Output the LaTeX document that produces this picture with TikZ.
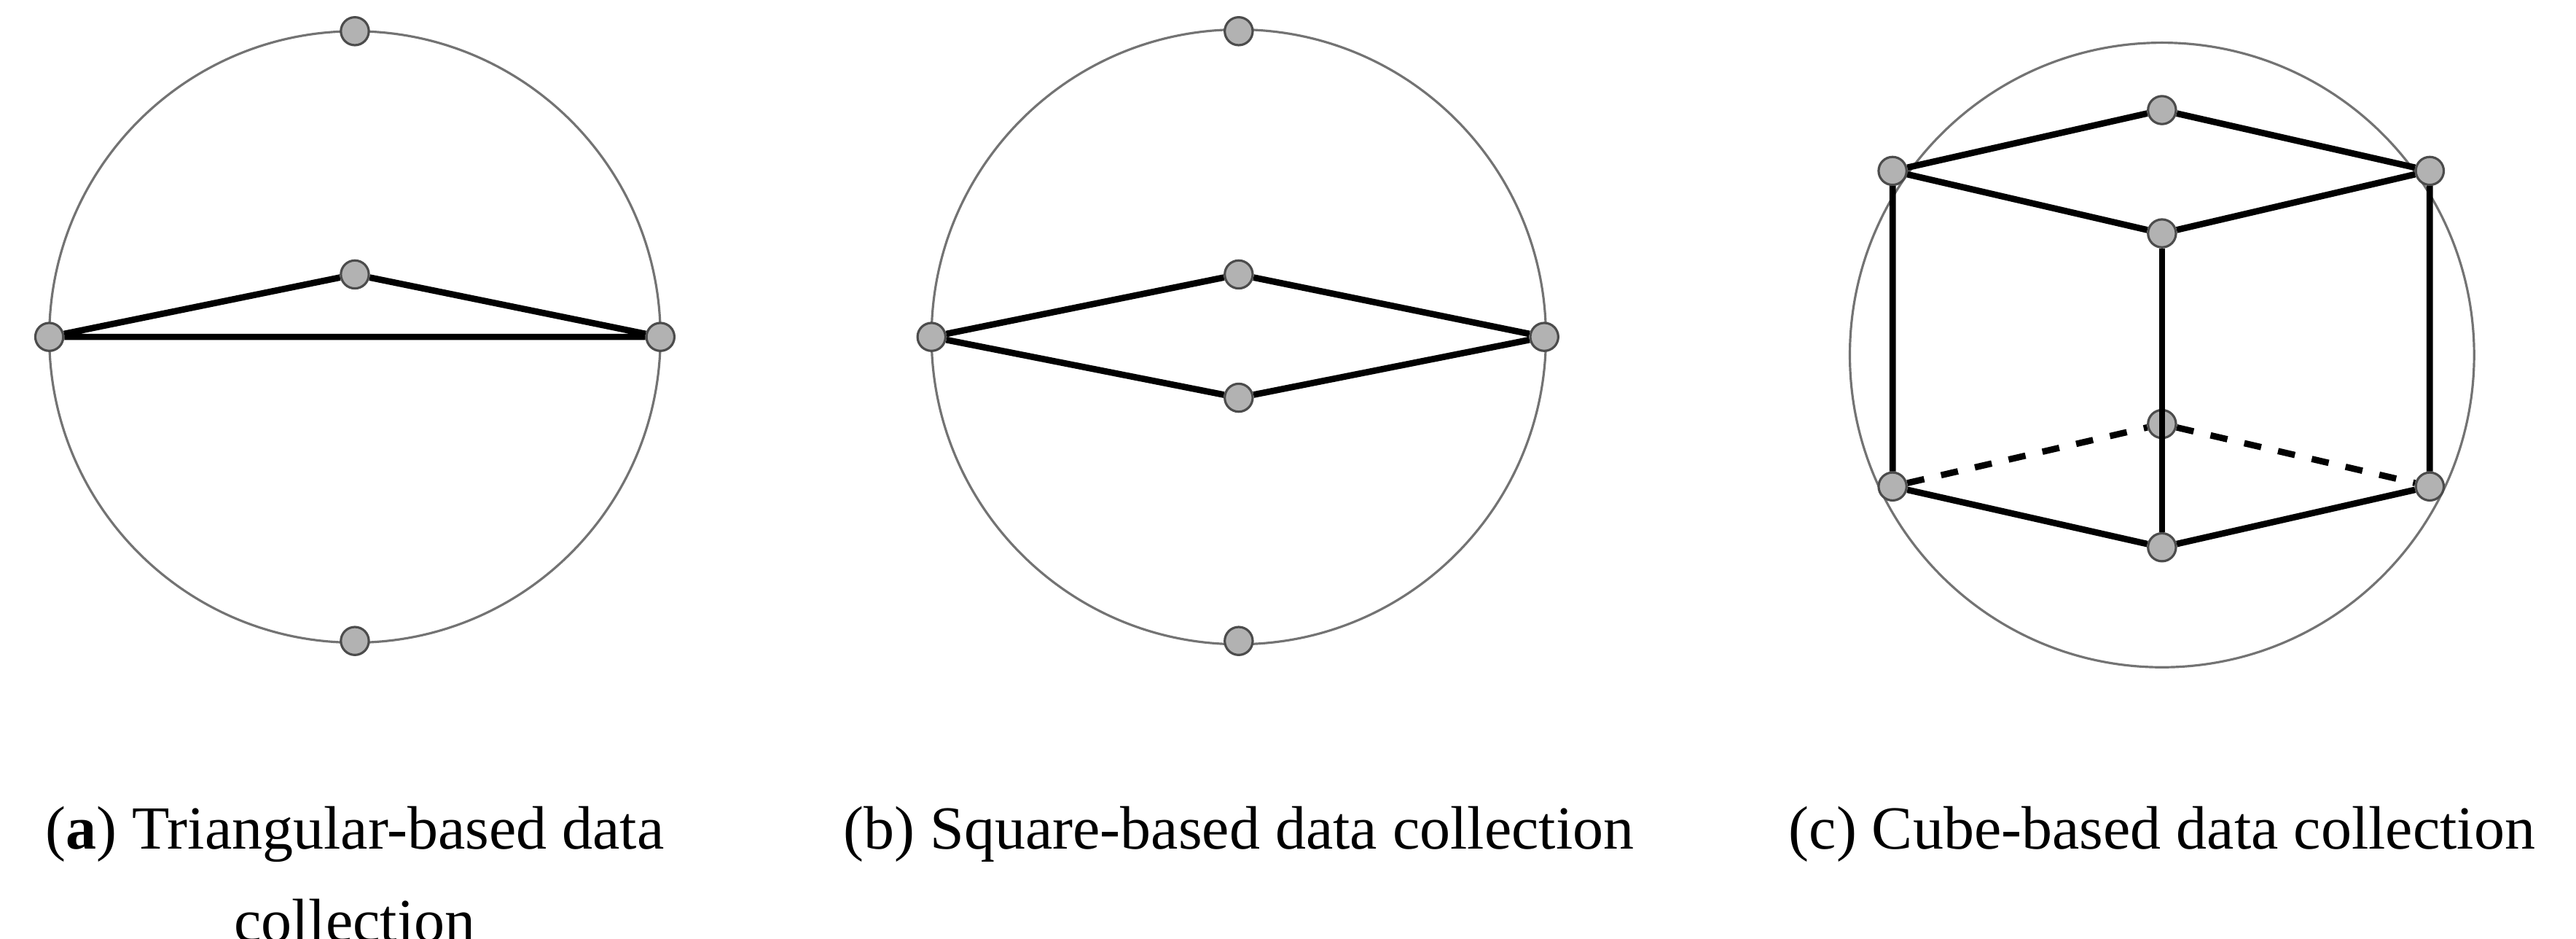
\documentclass[tikz,border=0pt]{standalone}
\usepackage{fontspec}
\setmainfont{Liberation Serif}
\begin{document}
\begin{tikzpicture}[x=0.01cm,y=-0.01cm,
  pt/.style={circle,draw=black!70,fill=black!30,line width=0.4pt,inner sep=0pt,minimum size=0.17cm},
  ring/.style={draw=black!55,line width=0.4pt},
  edge/.style={line width=1.1pt},
  lbl/.style={font=\fontsize{10.6}{12}\selectfont,align=center,anchor=north,inner sep=0pt}]
\useasboundingbox (0,0) rectangle (1568,571);
% (a)
\draw[ring] (216,205) circle[radius=186];
\node[pt] (a1) at (216,19) {};
\node[pt] (a2) at (216,390) {};
\node[pt] (aL) at (30,205) {};
\node[pt] (aR) at (402,205) {};
\node[pt] (aM) at (216,167) {};
\draw[edge] (aL) -- (aM) -- (aR) -- (aL);
% (b)
\draw[ring] (754,205) circle[radius=187];
\node[pt] (b1) at (754,19) {};
\node[pt] (b2) at (754,390) {};
\node[pt] (bL) at (567,205) {};
\node[pt] (bR) at (940,205) {};
\node[pt] (bT) at (754,167) {};
\node[pt] (bB) at (754,242) {};
\draw[edge] (bL) -- (bT) -- (bR) -- (bB) -- (bL);
% (c)
\draw[ring] (1316,216) circle[radius=190];
\node[pt] (c1) at (1152,104) {};
\node[pt] (c2) at (1316,67) {};
\node[pt] (c3) at (1479,104) {};
\node[pt] (c4) at (1316,142) {};
\node[pt] (c5) at (1152,296) {};
\node[pt] (c6) at (1316,258) {};
\node[pt] (c7) at (1479,296) {};
\node[pt] (c8) at (1316,333) {};
\draw[edge] (c1) -- (c2) -- (c3) -- (c4) -- (c1);
\draw[edge] (c1) -- (c5) -- (c8) -- (c7) -- (c3);
\draw[edge] (c4) -- (c8);
\draw[edge,dashed] (c5) -- (c6) -- (c7);
% labels
\node[lbl] (la) at (216,490) {(\textbf{a}) Triangular-based data\\[4pt]collection};
\node[lbl] (lb) at (754,490) {(b) Square-based data collection};
\node[lbl] (lc) at (1316,490) {(c) Cube-based data collection};
\end{tikzpicture}
\end{document}
